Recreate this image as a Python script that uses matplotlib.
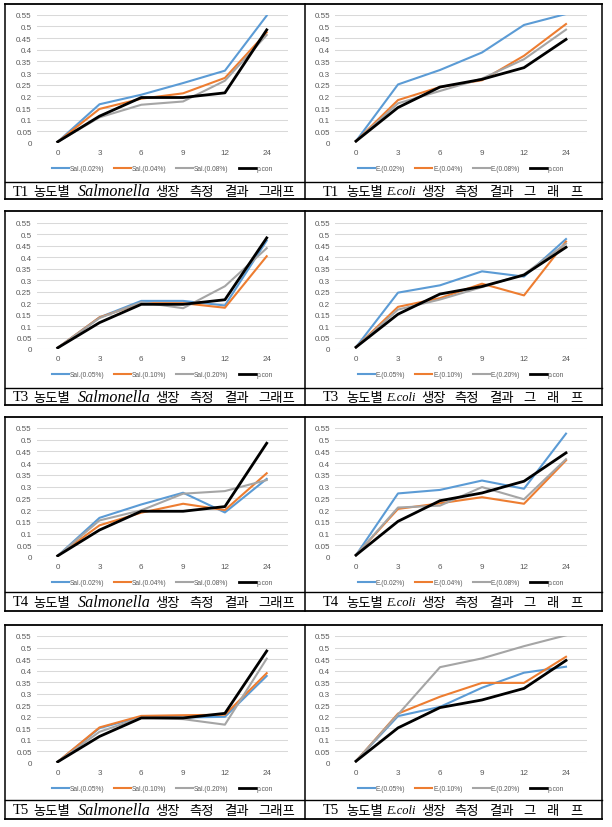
import matplotlib
matplotlib.use("Agg")
import matplotlib.pyplot as plt
from matplotlib.lines import Line2D

# ---------------- data ----------------
hours = ['0', '3', '6', '9', '12', '24']
ytick_vals = [0, 0.05, 0.1, 0.15, 0.2, 0.25, 0.3, 0.35, 0.4, 0.45, 0.5, 0.55]
ytick_labels = ['0', '0.05', '0.1', '0.15', '0.2', '0.25', '0.3', '0.35', '0.4', '0.45', '0.5', '0.55']

pcon_sal = [0.005, 0.115, 0.195, 0.195, 0.215, 0.485]
pcon_eco = [0.008, 0.152, 0.240, 0.273, 0.323, 0.444]

sal_t1_002 = [0.005, 0.166, 0.207, 0.257, 0.310, 0.546]
sal_t1_004 = [0.005, 0.146, 0.190, 0.213, 0.279, 0.474]
sal_t1_008 = [0.005, 0.110, 0.164, 0.178, 0.267, 0.463]

eco_t1_002 = [0.008, 0.251, 0.313, 0.388, 0.506, 0.553]
eco_t1_004 = [0.008, 0.184, 0.240, 0.269, 0.374, 0.510]
eco_t1_008 = [0.008, 0.170, 0.223, 0.276, 0.359, 0.486]

sal_t3_005 = [0.005, 0.138, 0.210, 0.210, 0.190, 0.473]
sal_t3_010 = [0.005, 0.138, 0.200, 0.200, 0.180, 0.405]
sal_t3_020 = [0.005, 0.135, 0.204, 0.178, 0.274, 0.440]

eco_t3_005 = [0.008, 0.246, 0.278, 0.339, 0.316, 0.480]
eco_t3_010 = [0.008, 0.184, 0.222, 0.285, 0.234, 0.469]
eco_t3_020 = [0.008, 0.172, 0.216, 0.270, 0.326, 0.460]

sal_t4_002 = [0.005, 0.167, 0.224, 0.274, 0.190, 0.333]
sal_t4_004 = [0.005, 0.135, 0.189, 0.227, 0.200, 0.357]
sal_t4_008 = [0.005, 0.156, 0.199, 0.270, 0.281, 0.328]

eco_t4_002 = [0.008, 0.271, 0.286, 0.326, 0.291, 0.526]
eco_t4_004 = [0.008, 0.205, 0.229, 0.255, 0.227, 0.412]
eco_t4_008 = [0.008, 0.211, 0.219, 0.298, 0.246, 0.417]

sal_t5_005 = [0.005, 0.151, 0.200, 0.197, 0.200, 0.377]
sal_t5_010 = [0.005, 0.154, 0.204, 0.207, 0.209, 0.389]
sal_t5_020 = [0.005, 0.135, 0.197, 0.190, 0.166, 0.452]

eco_t5_005 = [0.008, 0.203, 0.243, 0.326, 0.391, 0.417]
eco_t5_010 = [0.008, 0.214, 0.287, 0.347, 0.347, 0.460]
eco_t5_020 = [0.008, 0.210, 0.415, 0.453, 0.506, 0.553]

conc_a = ['0.02%', '0.04%', '0.08%']
conc_b = ['0.05%', '0.10%', '0.20%']
treat = ['T1', 'T3', 'T4', 'T5']

panels = [
    # (row, col, series, prefix, conc, treatment, organism)
    (0, 0, [sal_t1_002, sal_t1_004, sal_t1_008, pcon_sal], 'Sal.', conc_a, treat[0], 'Salmonella'),
    (0, 1, [eco_t1_002, eco_t1_004, eco_t1_008, pcon_eco], 'E.', conc_a, treat[0], 'E.coli'),
    (1, 0, [sal_t3_005, sal_t3_010, sal_t3_020, pcon_sal], 'Sal.', conc_b, treat[1], 'Salmonella'),
    (1, 1, [eco_t3_005, eco_t3_010, eco_t3_020, pcon_eco], 'E.', conc_b, treat[1], 'E.coli'),
    (2, 0, [sal_t4_002, sal_t4_004, sal_t4_008, pcon_sal], 'Sal.', conc_a, treat[2], 'Salmonella'),
    (2, 1, [eco_t4_002, eco_t4_004, eco_t4_008, pcon_eco], 'E.', conc_a, treat[2], 'E.coli'),
    (3, 0, [sal_t5_005, sal_t5_010, sal_t5_020, pcon_sal], 'Sal.', conc_b, treat[3], 'Salmonella'),
    (3, 1, [eco_t5_005, eco_t5_010, eco_t5_020, pcon_eco], 'E.', conc_b, treat[3], 'E.coli'),
]

# ---------------- layout (pixels) ----------------
W, H = 612, 828
colors = ['#5B9BD5', '#ED7D31', '#A5A5A5', '#000000']
widths = [1.5, 1.5, 1.5, 2.0]
# rows: top border, plot top (0.55), plot bottom (0), caption separator, bottom border
rows = [
    (5, 15.7, 144, 183, 200),
    (212, 224, 350, 389, 406),
    (418, 429, 558, 593, 612),
    (626, 637, 764, 801, 820),
]
cells_x = [(5, 305), (305, 602)]
axes_x = [(36.8, 287.6), (335.0, 587.0)]

# caption pieces: (text-key, x centre relative to cell left, kind)
cap_layout = [
    [('T', 16, 'serif'), ('농도별', 47, 'kr'), ('ORG', 109.5, 'ital'), ('생장', 163, 'kr'),
     ('측정', 197, 'kr'), ('결과', 231, 'kr'), ('그래프', 272, 'kr')],
    [('T', 25.5, 'serif'), ('농도별', 59.5, 'kr'), ('ORG', 96, 'ital'), ('생장', 128.5, 'kr'),
     ('측정', 161.5, 'kr'), ('결과', 196, 'kr'), ('그', 224.5, 'kr'), ('래', 248.5, 'kr'),
     ('프', 271, 'kr')],
]

tick_font = ['Liberation Sans', 'DejaVu Sans']

fig = plt.figure(figsize=(W / 100, H / 100), dpi=100)
fig.patch.set_facecolor('white')

def fx(x):
    return x / W

def fy(y):
    return 1 - y / H

def hline(x0, x1, y, lw=1.1):
    fig.add_artist(Line2D([fx(x0), fx(x1)], [fy(y), fy(y)], color='black', lw=lw,
                          transform=fig.transFigure))

def vline(x, y0, y1, lw=1.1):
    fig.add_artist(Line2D([fx(x), fx(x)], [fy(y0), fy(y1)], color='black', lw=lw,
                          transform=fig.transFigure))

for (top, ptop, pbot, sep, bot) in rows:
    hline(cells_x[0][0], cells_x[1][1], top, 1.3)
    hline(cells_x[0][0], cells_x[1][1], sep, 1.0)
    hline(cells_x[0][0], cells_x[1][1], bot, 1.3)
    vline(cells_x[0][0], top, bot)
    vline(cells_x[0][1], top, bot)
    vline(cells_x[1][1], top, bot)

x = list(range(len(hours)))
for (r, c, series, prefix, conc, tname, org) in panels:
    top, ptop, pbot, sep, bot = rows[r]
    ax0, ax1 = axes_x[c]
    ax = fig.add_axes([fx(ax0), fy(pbot), (ax1 - ax0) / W, (pbot - ptop) / H])
    labels = [f'{prefix}({k})' for k in conc] + ['p.con']
    for s, col, lw, lab in zip(series, colors, widths, labels):
        ax.plot(x, s, color=col, lw=lw, label=lab, solid_joinstyle='round')
    ax.set_xlim(-0.5, len(hours) - 0.5)
    ax.set_ylim(0, 0.55)
    ax.set_xticks(x)
    ax.set_xticklabels(hours, family=tick_font)
    ax.set_yticks(ytick_vals)
    ax.set_yticklabels(ytick_labels, family=tick_font)
    ax.tick_params(axis='both', length=0, labelsize=5.8, colors='#595959')
    ax.tick_params(axis='y', pad=3.6)
    ax.tick_params(axis='x', pad=4.5)
    for sp in ax.spines.values():
        sp.set_visible(False)
    ax.yaxis.grid(True, color='#D9D9D9', lw=0.75)
    ax.set_axisbelow(True)
    ax.patch.set_alpha(0)
    hpx = pbot - ptop
    leg = ax.legend(loc='center', bbox_to_anchor=(0.5, -25.5 / hpx), ncol=4, frameon=False,
                    prop={'family': tick_font, 'size': 4.8},
                    handlelength=2.55, handletextpad=0.12, columnspacing=1.5,
                    borderaxespad=0)
    for t in leg.get_texts():
        t.set_color('#595959')

    # caption
    cy = fy((sep + bot) / 2 + 0.5)
    cl = cells_x[c][0]
    for key, p, kind in cap_layout[c]:
        if kind == 'serif':
            fig.text(fx(cl + p), cy, tname, ha='center', va='center', fontsize=10.5,
                     family=['Liberation Serif'])
        elif kind == 'ital':
            fig.text(fx(cl + p), cy, org, ha='center', va='center',
                     fontsize=11.6 if org == 'Salmonella' else 9,
                     family=['Liberation Serif'], style='italic')
        else:
            fig.text(fx(cl + p), cy, key, ha='center', va='center', fontsize=9.6,
                     family=['Noto Sans CJK KR'])

fig.savefig('out.png', dpi=100, facecolor='white')
